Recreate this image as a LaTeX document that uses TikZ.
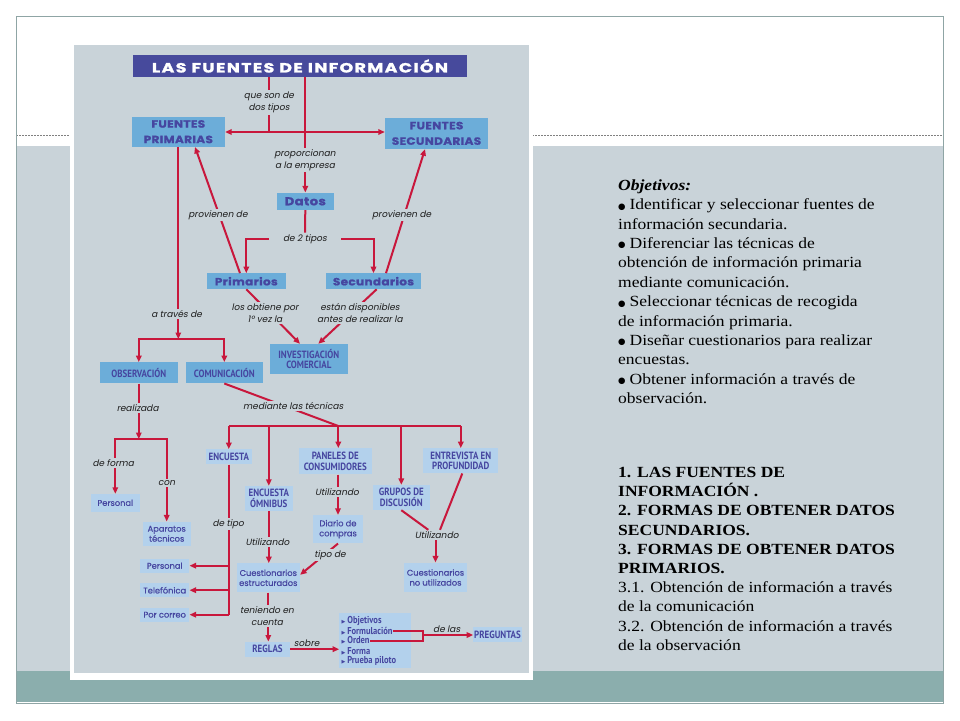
\documentclass[tikz,border=0pt]{standalone}
\usepackage{fontspec}
\setmainfont{Liberation Serif}[FakeStretch=1.13]
\newfontfamily\pop{Poppins}[FakeBold=0.6]
\newfontfamily\popi{Poppins}[FakeSlant=0.2]
\newfontfamily\popw{Poppins}[FakeStretch=1.15,LetterSpace=3,FakeBold=1]
\newfontfamily\popt{Poppins}[FakeStretch=1.3,LetterSpace=10,FakeBold=1.5]
\newfontfamily\cnd{PT Sans}[FakeStretch=0.85]
\newfontfamily\djv{DejaVu Sans}
\usetikzlibrary{arrows.meta}
\definecolor{bgc}{HTML}{C9D3D9}
\definecolor{tealband}{HTML}{8BAEAD}
\definecolor{ttl}{HTML}{474A9C}
\definecolor{boxA}{HTML}{6CADD9}
\definecolor{boxB}{HTML}{B3D1EC}
\definecolor{txtb}{HTML}{4646A0}
\definecolor{redl}{HTML}{C8173C}
\definecolor{framec}{HTML}{8FA5A5}
\definecolor{lblc}{HTML}{1E1E1E}
\newcommand\tri{{\djv\fontsize{5}{5}\selectfont ▶}\hspace{2pt}}
\newcommand\bul{\raisebox{0.6pt}{\djv\fontsize{8.5}{8.5}\selectfont ●}\hspace{4pt}}
\tikzset{
 boxa/.style={fill=boxA, text=txtb, inner sep=0pt, align=center},
 boxb/.style={fill=boxB, text=txtb, inner sep=0pt, align=center},
 fA/.style={font=\popw\bfseries\fontsize{10.5}{15.5}\selectfont},
 fD/.style={font=\popw\bfseries\fontsize{10.5}{12}\selectfont},
 fC/.style={font=\cnd\bfseries\fontsize{10.5}{10.7}\selectfont},
 fL/.style={font=\pop\fontsize{8.3}{10}\selectfont},
 itm/.style={font=\cnd\bfseries\fontsize{10}{10}\selectfont, text=txtb, anchor=west, inner sep=0.3pt},
 lbl/.style={font=\popi\fontsize{9}{12.5}\selectfont, text=lblc, fill=bgc, inner sep=1.5pt, align=center},
 lbn/.style={font=\popi\fontsize{9}{12.5}\selectfont, text=lblc, inner sep=0pt},
 ln/.style={draw=redl, line width=2pt},
 arr/.style={ln, -{Triangle[length=6.5pt,width=5.5pt]}},
 arr2/.style={ln, {Triangle[length=6.5pt,width=5.5pt]}-{Triangle[length=6.5pt,width=5.5pt]}},
}
\begin{document}
\begin{tikzpicture}[x=1pt,y=-1pt]
\useasboundingbox (0,0) rectangle (960,720);
\fill[white] (0,0) rectangle (960,720);
% slide
\fill[bgc] (16,146) rectangle (943,671);
\fill[tealband] (16,671) rectangle (943,702);
\draw[gray, line width=0.6pt, dash pattern=on 2pt off 1pt] (16,135) -- (943,135);
\draw[framec, line width=1pt] (16,16) rectangle (943,703);
% diagram panel
\fill[white] (70,41) rectangle (533,680);
\fill[bgc] (74,45) rectangle (529,673);

% boxes
\node[fill=ttl, text=white, minimum width=334, minimum height=22, inner sep=0pt,
  font=\popt\bfseries\fontsize{13.4}{14}\selectfont] (title) at (300,66) {LAS FUENTES DE INFORMACIÓN};
\node[boxa, fA, minimum width=93.3, minimum height=30] (fp) at (178.3,131.7) {FUENTES\\PRIMARIAS};
\node[boxa, fA, minimum width=103, minimum height=31.3] (fs) at (436.5,133.3) {FUENTES\\SECUNDARIAS};
\node[boxa, fD, font=\popw\bfseries\fontsize{11.5}{12}\selectfont, minimum width=57.3, minimum height=17.3] (datos) at (305.3,201.3) {Datos};
\node[boxa, fD, minimum width=79.3, minimum height=15.7] (prim) at (246.3,281.2) {Primarios};
\node[boxa, fD, minimum width=95, minimum height=15.7] (sec) at (373.5,281.2) {Secundarios};
\node[boxa, fC, minimum width=77.7, minimum height=30] (inv) at (308.8,359) {INVESTIGACIÓN\\COMERCIAL};
\node[boxa, fC, minimum width=77.7, minimum height=21] (obs) at (138.8,372.8) {OBSERVACIÓN};
\node[boxa, fC, minimum width=76.7, minimum height=21] (com) at (224.3,372.8) {COMUNICACIÓN};
\node[boxb, fL, minimum width=49.3, minimum height=17.7] (pers1) at (115.3,502.8) {Personal};
\node[boxb, fL, minimum width=48, minimum height=24.3] (apar) at (166.7,533.8) {Aparatos\\técnicos};
\node[boxb, fC, minimum width=45.7, minimum height=15] (enc) at (228.8,456.8) {ENCUESTA};
\node[boxb, fC, minimum width=47.7, minimum height=24.7] (omni) at (268.8,498.3) {ENCUESTA\\ÓMNIBUS};
\node[boxb, fC, minimum width=72.7, minimum height=26] (pan) at (335.3,461.3) {PANELES DE\\CONSUMIDORES};
\node[boxb, fC, minimum width=57.3, minimum height=25] (grup) at (401.3,497.5) {GRUPOS DE\\DISCUSIÓN};
\node[boxb, fC, minimum width=75, minimum height=25] (entr) at (460.8,460.8) {ENTREVISTA EN\\PROFUNDIDAD};
\node[boxb, fL, minimum width=50.7, minimum height=28.3] (diar) at (338,529.2) {Diario de\\compras};
\node[boxb, fL, minimum width=63.3, minimum height=29] (cest) at (268.3,577.8) {Cuestionarios\\estructurados};
\node[boxb, fL, minimum width=62.3, minimum height=29.7] (cnou) at (435.5,577.5) {Cuestionarios\\no utilizados};
\node[boxb, fL, minimum width=49.3, minimum height=14] (pers2) at (164.7,565.7) {Personal};
\node[boxb, fL, minimum width=49.3, minimum height=14] (tele) at (164.7,590.2) {Telefónica};
\node[boxb, fL, minimum width=49.3, minimum height=14] (corr) at (164.7,614.7) {Por correo};
\node[boxb, fC, minimum width=45, minimum height=15] (reg) at (267.5,649.2) {REGLAS};
\node[boxb, minimum width=71.3, minimum height=55.7] (lst) at (375,640.5) {};
\node[boxb, fC, minimum width=48.3, minimum height=14.4] (preg) at (497.5,634.5) {PREGUNTAS};
\node[itm] (i1) at (341,621) {\tri Objetivos};
\node[itm] (i2) at (341,630.7) {\tri Formulación};
\node[itm] (i3) at (341,640.7) {\tri Orden};
\node[itm] (i4) at (341,651) {\tri Forma};
\node[itm] (i5) at (341,661) {\tri Prueba piloto};

% labels that connectors attach to
\node[lbl, minimum width=71.7, inner xsep=0pt] (l5) at (305,239) {de 2 tipos};
\node[lbl, fill=none] (u3) at (436.7,535) {Utilizando};

% connectors
\coordinate (t1) at (269,132);
\draw[ln] (title.south -| t1) -- (t1);
\draw[arr2] (fp.east |- t1) -- (fs.west |- t1);
\draw[arr] (title.south -| datos.north) -- (datos.north);
\draw[arr] ([xshift=-6.3pt]prim.north) -- ([xshift=16.7pt]fp.south);
\draw[arr] ([xshift=12.5pt]sec.north) -- ([xshift=-11.5pt]fs.south);
\draw[ln] (datos.south) -- (l5.north);
\draw[arr] (l5.west) -| (prim.north);
\draw[arr] (l5.east) -| (sec.north);
\draw[arr] (prim.south) -- ([xshift=-8.8pt]inv.north);
\draw[arr] ([xshift=3.2pt]sec.south) -- ([xshift=9.5pt]inv.north);
\coordinate (j0) at (178.3,339);
\draw[arr] (fp.south) -- (j0);
\draw[arr] (j0) -| (obs.north);
\draw[arr] (j0) -| (com.north);
\coordinate (j2) at (138.8,439);
\draw[arr] (obs.south) -- (j2);
\draw[arr] (j2) -| (pers1.north);
\draw[arr] (j2) -| (apar.north);
\coordinate (j3) at (338.3,426);
\draw[ln] (com.south) -- (j3);
\draw[ln] (enc.north |- j3) -- (entr.north |- j3);
\foreach \n in {enc,omni,grup,entr} \draw[arr] (\n.north |- j3) -- (\n.north);
\draw[arr] (j3) -- (j3 |- pan.north);
\draw[arr] (pan.south -| diar.north) -- (diar.north);
\draw[arr] (diar.south) -- ([yshift=3pt]cest.east);
\draw[arr] (omni.south) -- (omni.south |- cest.north);
\draw[arr] (cest.south) -- (cest.south |- reg.north);
\draw[arr] (reg.east) -- (reg.east -| lst.west);
\draw[ln] (enc.south) -- (enc.south |- corr.east);
\foreach \n in {pers2,tele,corr} \draw[arr] (enc.south |- \n.east) -- (\n.east);
\draw[ln] (grup.south) -- ([xshift=-8.4pt]u3.north);
\draw[ln] ([xshift=1.5pt]entr.south) -- ([xshift=3.3pt]u3.north);
\draw[arr] (u3.south -| cnou.north) -- (cnou.north);
\coordinate (jb) at (423.3,635);
\draw[ln] (i2.east) -| (i3.east -| jb) -- (i3.east);
\draw[arr] (jb) -- (jb -| preg.west);

% labels over connectors
\node[lbl] (l1) at (269,102.5) {que son de\\dos tipos};
\node[lbl] (l2) at (305,160) {proporcionan\\a la empresa};
\node[lbl] (l3) at (218,215) {provienen de};
\node[lbl] (l4) at (401.7,215) {provienen de};
\node[lbl] (l6) at (176.7,314) {a través de};
\node[lbl] (l7) at (265,313) {los obtiene por\\1º vez la};
\node[lbl] (l8) at (360,313) {están disponibles\\antes de realizar la};
\node[lbl] (l9) at (137.7,408.3) {realizada};
\node[lbl] (l10) at (293.3,405.7) {mediante las técnicas};
\node[lbl] (l11) at (113.3,463.3) {de forma};
\node[lbl] (l12) at (166.7,482.7) {con};
\node[lbl] (l13) at (228.3,524) {de tipo};
\node[lbl] (l14) at (267.5,542) {Utilizando};
\node[lbl] (l15) at (337,491.7) {Utilizando};
\node[lbl] (l17) at (330,555) {tipo de};
\node[lbl] (l18) at (267,616) {teniendo en\\cuenta};
\node[lbn, anchor=base] (l19) at (306.7,646.5) {sobre};
\node[lbn, anchor=base] (l20) at (446.7,632.5) {de las};

% right-hand text
\node[anchor=north west, inner sep=0pt, align=left, font=\fontsize{15.5}{19.4}\selectfont] (obj) at (618,179.3)
{\textbf{\textit{Objetivos:}}\\
\bul Identificar y seleccionar fuentes de\\
información secundaria.\\
\bul Diferenciar las técnicas de\\
obtención de información primaria\\
mediante comunicación.\\
\bul Seleccionar técnicas de recogida\\
de información primaria.\\
\bul Diseñar cuestionarios para realizar\\
encuestas.\\
\bul Obtener información a través de\\
observación.};
\node[anchor=north west, inner sep=0pt, align=left, font=\fontsize{15.5}{19.2}\selectfont] (idx) at (618,467)
{\textbf{1. LAS FUENTES DE}\\
\textbf{INFORMACIÓN .}\\
\textbf{2. FORMAS DE OBTENER DATOS}\\
\textbf{SECUNDARIOS.}\\
\textbf{3. FORMAS DE OBTENER DATOS}\\
\textbf{PRIMARIOS.}\\
3.1. Obtención de información a través\\
de la comunicación\\
3.2. Obtención de información a través\\
de la observación};
\end{tikzpicture}
\end{document}
